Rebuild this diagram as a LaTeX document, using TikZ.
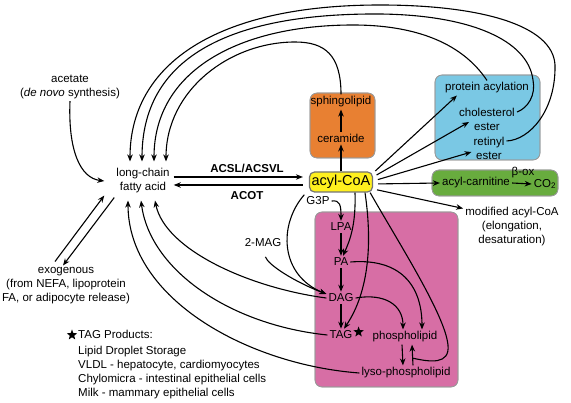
\documentclass[tikz,border=0pt]{standalone}
\usepackage{fontspec}
\setmainfont{Liberation Sans}
\usetikzlibrary{arrows.meta, calc, shapes.geometric}
\definecolor{sphorange}{RGB}{232,128,50}
\definecolor{estblue}{RGB}{122,200,228}
\definecolor{carngreen}{RGB}{104,172,62}
\definecolor{lippink}{RGB}{215,110,165}
\definecolor{coayellow}{RGB}{255,240,30}
\tikzset{%
    pri/.style={line width=1.1pt},
    pria/.style={line width=1.1pt, -{Stealth[length=7pt,width=5.5pt]}},
    lbl/.style={font=\fontsize{11.5}{14}\selectfont, align=center, inner sep=2pt},
    grp/.style={draw=black!40, line width=0.6pt, rounded corners=7pt},
    coa/.style={draw=black!55, line width=1.2pt, fill=coayellow, rounded corners=5pt,
        minimum width=63pt, minimum height=20pt, inner sep=1pt,
        font=\fontsize{14.5}{16}\selectfont},
    tagstar/.style={star, star points=5, star point ratio=2.4, fill=black,
        inner sep=0pt, minimum size=11pt},
}
\begin{document}
\begin{tikzpicture}[x=1pt,y=-1pt]
    \useasboundingbox (0,0) rectangle (571,403);
    % compartments
    \fill[grp, fill=lippink] (315,212) rectangle (458,387);
    \fill[grp, fill=sphorange] (310,93) rectangle (375,158);
    \fill[grp, fill=estblue] (435,75) rectangle (540,160);
    \fill[grp, fill=carngreen] (432,170) rectangle (558,196);
    \draw[grp] (315,212) rectangle (458,387) (310,93) rectangle (375,158)
        (435,75) rectangle (540,160) (432,170) rectangle (558,196);
    % nodes
    \node[lbl, inner xsep=4pt, inner ysep=7pt] (fa) at (143,181) {long-chain\\fatty acid};
    \node[coa] (coa) at (341,182) {acyl-CoA};
    \node[lbl, font=\fontsize{11.5}{14}\selectfont\bfseries] (acsl) at (247,168) {ACSL/ACSVL};
    \node[lbl, font=\fontsize{11.5}{14}\selectfont\bfseries] (acot) at (247,196) {ACOT};
    \node[lbl] (acet) at (70,87) {acetate\\(\textit{de novo} synthesis)};
    \node[lbl] (exo) at (66,286) {exogenous\\(from NEFA, lipoprotein\\FA, or adipocyte release)};
    \node[lbl] (sph) at (341,102) {sphingolipid};
    \node[lbl] (cer) at (341,138) {ceramide};
    \node[lbl] (prot) at (487,88) {protein acylation};
    \node[lbl] (chol) at (487,119) {cholesterol\\ester};
    \node[lbl] (ret) at (489,148) {retinyl\\ester};
    \node[lbl] (carn) at (476,183) {acyl-carnitine};
    \node[lbl] (co2) at (545,184) {CO\textsubscript{2}};
    \node[lbl] (betaox) at (523,173) {β-ox};
    \node[lbl] (mod) at (512,227) {modified acyl-CoA\\(elongation,\\desaturation)};
    \node[lbl] (g3p) at (318,201) {G3P};
    \node[lbl] (mag) at (263,243) {2-MAG};
    \node[lbl] (lpa) at (341,227) {LPA};
    \node[lbl] (pa) at (341,262) {PA};
    \node[lbl] (dag) at (341,298) {DAG};
    \node[lbl] (tag) at (341,335) {TAG};
    \node[tagstar] (tstar) at ([xshift=4pt,yshift=3pt]tag.east) {};
    \node[lbl] (phos) at (405,337) {phospholipid};
    \node[lbl] (lyso) at (406,373) {lyso-phospholipid};
    \node[tagstar] (lstar) at (72,335) {};
    \node[lbl, align=left, anchor=north west] (prod) at (76,328) {TAG Products:\\[2pt]
        Lipid Droplet Storage\\
        VLDL - hepatocyte, cardiomyocytes\\
        Chylomicra - intestinal epithelial cells\\
        Milk - mammary epithelial cells};
    % fatty acid <-> acyl-CoA
    \draw[pria, shorten >=6pt] ([yshift=4pt]fa.east) -- ([yshift=5pt]coa.west);
    \draw[pria, shorten <=6pt] ([yshift=-3pt]coa.west) -- ([yshift=-4pt]fa.east);
    \draw[pria] (acet.south) .. controls (68,150) and (80,178) .. ([xshift=-8pt]fa.west);
    \draw[pria] ([xshift=-11pt,yshift=4pt]exo.north) -- ([xshift=-8pt,yshift=5pt]fa.south west);
    \draw[pria] ([xshift=2pt,yshift=3pt]fa.south west) -- ([xshift=-3pt]exo.north);
    % sphingolipids
    \draw[pria] (coa.north) -- (cer.south);
    \draw[pria] (cer.north) -- (sph.south);
    % esters, carnitine, modification
    \draw[pria, shorten <=3pt] ([yshift=9pt]coa.east) -- ([xshift=14pt]prot.south west);
    \draw[pria, shorten <=4pt] ([yshift=5pt]coa.east) -- ([xshift=12pt,yshift=-3pt]chol.west);
    \draw[pria, shorten <=5pt] ([yshift=1pt]coa.east) -- ([yshift=-4pt]ret.west);
    \draw[pria, shorten <=5pt] ([yshift=-2pt]coa.east) -- (carn.west);
    \draw[pria, shorten <=4pt] ([yshift=-7pt]coa.east) -- ([yshift=-3pt]mod.north west);
    \draw[pria] (carn.east) -- (co2.west);
    % glycerolipids
    \draw[pria] (g3p.east) .. controls (340,200) and (341,205) .. (lpa.north);
    \draw[pria] (lpa) -- (pa);
    \draw[pria] (pa) -- (dag);
    \draw[pria] (dag) -- (tag);
    \draw[pria] (g3p.north west) .. controls (278,225) and (280,275) .. ([yshift=4pt]dag.west);
    \draw[pria, shorten <=8pt] (mag.south) .. controls (268,265) and (295,282) .. ([yshift=4pt]dag.west);
    \draw[pria] ([xshift=14pt]coa.south) .. controls (356,225) and (350,240) .. ([xshift=2pt]pa.north);
    \draw[pria] ([xshift=24pt]coa.south) .. controls (372,240) and (370,290) .. ([xshift=3pt]tag.north);
    \draw[pria] (pa.east) .. controls (400,258) and (422,285) .. ([xshift=17pt]phos.north);
    \draw[pria] (dag.east) .. controls (385,293) and (403,305) .. ([xshift=-2pt]phos.north);
    \draw[pria] ([xshift=-3pt]phos.south) -- ([xshift=-3pt]lyso.north);
    \draw[pria] ([xshift=7pt]lyso.north) -- ([xshift=7pt]phos.south);
    \coordinate (jn) at ($([xshift=7pt]lyso.north)!0.35!([xshift=7pt]phos.south)$);
    \draw[pri] ([xshift=-3pt]coa.south east) .. controls (400,245) and (445,315) .. (448,345)
        .. controls (450,365) and (430,362) .. (jn);
    % back to fatty acid (below)
    \draw[pria] (dag.west) .. controls (250,288) and (165,250) .. ([xshift=12pt]fa.south);
    \draw[pria] (tag.west) .. controls (230,325) and (150,270) .. ([xshift=-2pt]fa.south);
    \draw[pria] (lyso.west) .. controls (250,365) and (128,300) .. ([xshift=-15pt]fa.south);
    % back to fatty acid (above)
    \draw[pria] (sph.north) .. controls (341,55) and (325,42) .. (295,42)
        .. controls (230,42) and (166,90) .. ([xshift=23pt]fa.north);
    \draw[pria] (prot.north) .. controls (460,40) and (410,25) .. (353,25)
        .. controls (240,25) and (154,70) .. ([xshift=11pt]fa.north);
    \draw[pria] ([yshift=7pt]chol.east) .. controls (528,108) and (536,95) .. (533,80)
        .. controls (528,40) and (470,15) .. (380,14)
        .. controls (225,13) and (142,60) .. ([xshift=-1pt]fa.north);
    \draw[pria] ([yshift=7pt]ret.east) .. controls (530,140) and (556,110) .. (555,65)
        .. controls (553,25) and (480,5) .. (380,5)
        .. controls (215,5) and (130,65) .. ([xshift=-13pt]fa.north);
\end{tikzpicture}
\end{document}
